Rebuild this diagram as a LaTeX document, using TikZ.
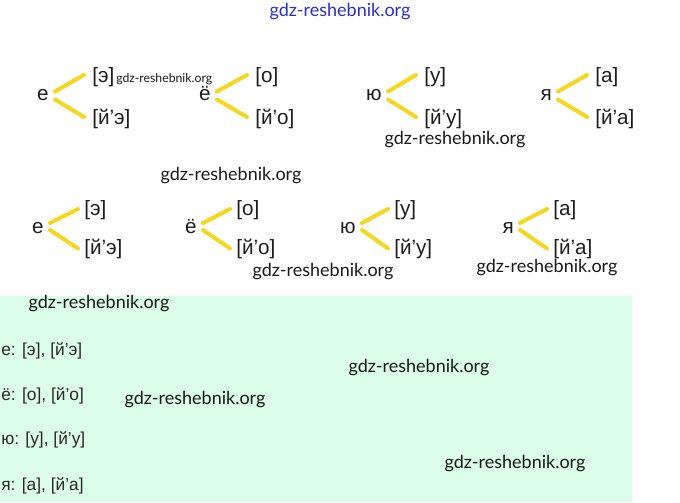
\documentclass[tikz,border=0pt]{standalone}
\usepackage{fontspec}
\setmainfont{Liberation Sans}
\newfontfamily\wmfont{Lato}
\usetikzlibrary{calc}
\definecolor{branchyellow}{RGB}{246,214,30}
\definecolor{listgreen}{RGB}{220,253,234}
\definecolor{soundtext}{RGB}{30,30,30}
\definecolor{wmblue}{RGB}{45,45,205}
\newcommand{\apo}{{\char"27}}

\begin{document}
\begin{tikzpicture}[x=0.75pt,y=0.75pt,yscale=-1,xscale=1,
  letter/.style={inner sep=0pt,anchor=base east,text=soundtext,font=\fontsize{15.5}{18}\selectfont},
  sound/.style={inner sep=0pt,anchor=west,text=soundtext,font=\fontsize{15.5}{18}\selectfont},
  branch/.style={draw=branchyellow,line width=3pt,line cap=round},
  listline/.style={inner sep=0pt,anchor=west,text=soundtext!95,font=\fontsize{13}{15}\selectfont},
  watermark/.style={inner sep=0pt,text=black!90,font=\wmfont\fontsize{13.5}{16}\selectfont}]
\useasboundingbox (0,0) rectangle (680,502);

%Shape: Rectangle [id:listbox]
\fill [listgreen] (0,296) rectangle (632,502);

% first row of forks
\node [letter] (eA) at (49,100.5) {е};
\node [sound] (eAhard) at (92,77) {[э]};
\node [sound] (eAsoft) at (92,118.5) {[й’э]};
\draw [branch] ($(eA.base east)+(6,-9)$) -- ($(eAhard.west)+(-8,-2)$);
\draw [branch] ($(eA.base east)+(6,-1)$) -- ($(eAsoft.west)+(-8,-1.5)$);

\node [letter] (yoA) at (211,100.5) {ё};
\node [sound] (yoAhard) at (255,77) {[о]};
\node [sound] (yoAsoft) at (255,118.5) {[й’о]};
\draw [branch] ($(yoA.base east)+(6,-9)$) -- ($(yoAhard.west)+(-8,-2)$);
\draw [branch] ($(yoA.base east)+(6,-1)$) -- ($(yoAsoft.west)+(-8,-1.5)$);

\node [letter] (yuA) at (382,100.5) {ю};
\node [sound] (yuAhard) at (424,77) {[у]};
\node [sound] (yuAsoft) at (424,118.5) {[й’у]};
\draw [branch] ($(yuA.base east)+(6,-9)$) -- ($(yuAhard.west)+(-8,-2)$);
\draw [branch] ($(yuA.base east)+(6,-1)$) -- ($(yuAsoft.west)+(-8,-1.5)$);

\node [letter] (yaA) at (552,100.5) {я};
\node [sound] (yaAhard) at (595,77) {[а]};
\node [sound] (yaAsoft) at (595,118.5) {[й’а]};
\draw [branch] ($(yaA.base east)+(6,-9)$) -- ($(yaAhard.west)+(-8,-2)$);
\draw [branch] ($(yaA.base east)+(6,-1)$) -- ($(yaAsoft.west)+(-8,-1.5)$);

% second row of forks
\node [letter] (eB) at (44,233) {е};
\node [sound] (eBhard) at (84,210) {[э]};
\node [sound] (eBsoft) at (84,248.5) {[й’э]};
\draw [branch] ($(eB.base east)+(6,-10)$) -- ($(eBhard.west)+(-6,-1)$);
\draw [branch] ($(eB.base east)+(6,-3)$) -- ($(eBsoft.west)+(-6,0)$);

\node [letter] (yoB) at (197,233) {ё};
\node [sound] (yoBhard) at (236,210) {[о]};
\node [sound] (yoBsoft) at (236,248.5) {[й’о]};
\draw [branch] ($(yoB.base east)+(6,-10)$) -- ($(yoBhard.west)+(-6,-1)$);
\draw [branch] ($(yoB.base east)+(6,-3)$) -- ($(yoBsoft.west)+(-6,0)$);

\node [letter] (yuB) at (356,233) {ю};
\node [sound] (yuBhard) at (394,210) {[у]};
\node [sound] (yuBsoft) at (394,248.5) {[й’у]};
\draw [branch] ($(yuB.base east)+(6,-10)$) -- ($(yuBhard.west)+(-6,-1)$);
\draw [branch] ($(yuB.base east)+(6,-3)$) -- ($(yuBsoft.west)+(-6,0)$);

\node [letter] (yaB) at (514,233) {я};
\node [sound] (yaBhard) at (553,210) {[а]};
\node [sound] (yaBsoft) at (553,248.5) {[й’а]};
\draw [branch] ($(yaB.base east)+(6,-10)$) -- ($(yaBhard.west)+(-6,-1)$);
\draw [branch] ($(yaB.base east)+(6,-3)$) -- ($(yaBsoft.west)+(-6,0)$);

% list in the green box
\node [listline] (listE) at (1,351) {е: [э], [й\apo э]};
\node [listline] (listYo) at (1,396) {ё: [о], [й\apo о]};
\node [listline] (listYu) at (1,440) {ю: [у], [й\apo у]};
\node [listline] (listYa) at (1,486) {я: [а], [й\apo а]};

% watermarks
\node [watermark,text=wmblue] (wmTop) at (340,12) {gdz-reshebnik.org};
\node [watermark,anchor=west,font=\wmfont\fontsize{9.2}{11}\selectfont] (wmSmall) at (116,79) {gdz-reshebnik.org};
\node [watermark] (wmA) at (455,140) {gdz-reshebnik.org};
\node [watermark] (wmB) at (231,176) {gdz-reshebnik.org};
\node [watermark] (wmC) at (323,272) {gdz-reshebnik.org};
\node [watermark] (wmD) at (547,268) {gdz-reshebnik.org};
\node [watermark] (wmE) at (99,304) {gdz-reshebnik.org};
\node [watermark] (wmF) at (419,368) {gdz-reshebnik.org};
\node [watermark] (wmG) at (195,400) {gdz-reshebnik.org};
\node [watermark] (wmH) at (515,464) {gdz-reshebnik.org};

\end{tikzpicture}
\end{document}
